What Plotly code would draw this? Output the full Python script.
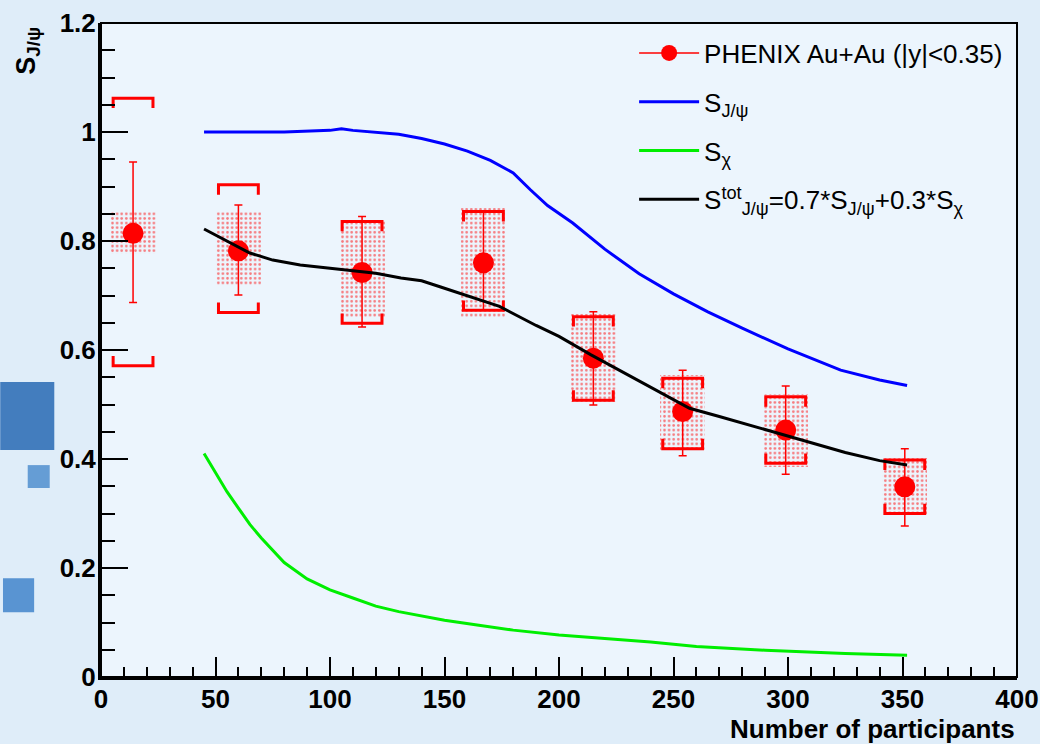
import plotly.graph_objects as go

# ---------------- data ----------------
npart = [14, 60, 114, 167, 215, 254, 299, 351]
s_data = [0.814, 0.782, 0.742, 0.760, 0.585, 0.487, 0.453, 0.349]
stat_plus = [0.131, 0.084, 0.103, 0.094, 0.085, 0.076, 0.081, 0.070]
stat_minus = [0.127, 0.081, 0.100, 0.087, 0.086, 0.081, 0.081, 0.072]
box_hi = [0.854, 0.854, 0.836, 0.860, 0.666, 0.554, 0.520, 0.401]
box_lo = [0.776, 0.719, 0.661, 0.661, 0.505, 0.416, 0.386, 0.299]
bracket_hi = [1.062, 0.903, 0.836, 0.854, 0.661, 0.548, 0.514, 0.398]
bracket_lo = [0.571, 0.669, 0.649, 0.673, 0.508, 0.419, 0.392, 0.300]

n_jpsi = [45, 60, 80, 100, 105, 110, 120, 130, 140, 150, 160, 170, 180, 187.5,
          195, 206, 220, 235, 250, 265, 280, 300, 323, 340, 352]
s_jpsi = [1.0, 1.0, 1.0, 1.003, 1.006, 1.003, 0.999, 0.996, 0.988, 0.978, 0.965,
          0.948, 0.925, 0.894, 0.865, 0.833, 0.785, 0.740, 0.703, 0.670, 0.640,
          0.602, 0.563, 0.545, 0.535]

n_chi = [45, 50, 55, 60, 65, 70, 75, 80, 90, 100, 110, 120, 130, 140, 150, 165,
         180, 200, 220, 240, 260, 290, 325, 352]
s_chi = [0.41, 0.375, 0.34, 0.31, 0.28, 0.255, 0.232, 0.21, 0.18, 0.16, 0.145,
         0.13, 0.12, 0.112, 0.104, 0.095, 0.086, 0.077, 0.071, 0.064, 0.056,
         0.049, 0.043, 0.040]

n_tot = [45, 55, 65, 75, 87, 100, 110, 120, 131, 140, 148, 160, 174, 190, 200,
         214, 230, 245, 257, 270, 280, 295, 308, 325, 340, 352]
s_tot = [0.822, 0.80, 0.778, 0.765, 0.756, 0.75, 0.746, 0.741, 0.732, 0.727,
         0.716, 0.70, 0.68, 0.645, 0.625, 0.591, 0.555, 0.52, 0.493, 0.478,
         0.466, 0.448, 0.432, 0.412, 0.397, 0.389]

x_ticks = [0, 50, 100, 150, 200, 250, 300, 350, 400]
y_ticks = [0, 0.2, 0.4, 0.6, 0.8, 1.0, 1.2]

# ---------------- styles ----------------
RED = "#ff0000"
FONT = "Liberation Sans"
BOX_W = 19.6        # width of shaded box in x units
BR_HALF = 8.7       # half width of bracket in x units
BR_PRONG = 0.018    # bracket prong length in y units

fig = go.Figure()

# shaded (dotted) boxes
fig.add_trace(go.Bar(
    x=npart, base=box_lo, y=[h - l for h, l in zip(box_hi, box_lo)],
    width=BOX_W, showlegend=False, hoverinfo="skip",
    marker=dict(color="rgba(0,0,0,0)", line=dict(width=0),
                pattern=dict(shape=".", size=4.6, solidity=0.26,
                             fgcolor=RED, bgcolor="rgba(0,0,0,0)")),
))

# brackets (systematic)
bx, by = [], []
for x, hi, lo in zip(npart, bracket_hi, bracket_lo):
    bx += [x - BR_HALF, x - BR_HALF, x + BR_HALF, x + BR_HALF, None]
    by += [hi - BR_PRONG, hi, hi, hi - BR_PRONG, None]
    bx += [x - BR_HALF, x - BR_HALF, x + BR_HALF, x + BR_HALF, None]
    by += [lo + BR_PRONG, lo, lo, lo + BR_PRONG, None]
fig.add_trace(go.Scatter(x=bx, y=by, mode="lines", showlegend=False,
                         hoverinfo="skip", line=dict(color=RED, width=3)))

# data points
fig.add_trace(go.Scatter(
    x=npart, y=s_data, mode="markers", showlegend=False,
    marker=dict(color=RED, size=21, symbol="circle"),
    error_y=dict(type="data", symmetric=False, array=stat_plus,
                 arrayminus=stat_minus, color=RED, thickness=1.5, width=4),
))
# legend entry for data
fig.add_trace(go.Scatter(
    x=[None], y=[None], mode="lines+markers", name="PHENIX Au+Au (|y|<0.35)",
    marker=dict(color=RED, size=20), line=dict(color=RED, width=1.5),
    legendrank=1, legendgroup="a",
))

fig.add_trace(go.Scatter(x=n_jpsi, y=s_jpsi, mode="lines",
                         name="S<sub>J/ψ</sub>", line=dict(color="#0000ff", width=3),
                         legendrank=2, legendgroup="b"))
fig.add_trace(go.Scatter(x=n_chi, y=s_chi, mode="lines",
                         name="S<sub>χ</sub>", line=dict(color="#00ee00", width=3),
                         legendrank=3, legendgroup="c"))
fig.add_trace(go.Scatter(x=n_tot, y=s_tot, mode="lines",
                         name="S<sup>tot</sup><sub>J/ψ</sub>=0.7*S<sub>J/ψ</sub>+0.3*S<sub>χ</sub>",
                         line=dict(color="black", width=3),
                         legendrank=4, legendgroup="d"))

# decorative background squares (left margin)
for (x0, y0, x1, y1, c) in [(-0.110, 0.347, -0.051, 0.451, "rgba(40,105,180,0.85)"),
                            (-0.080, 0.289, -0.056, 0.324, "rgba(60,130,200,0.75)"),
                            (-0.107, 0.099, -0.073, 0.151, "rgba(55,125,200,0.8)")]:
    fig.add_shape(type="rect", xref="paper", yref="paper", x0=x0, y0=y0, x1=x1, y1=y1,
                  fillcolor=c, line=dict(width=0), layer="below")

# plot frame (thin top/right)
fig.add_shape(type="rect", xref="x domain", yref="y domain", x0=0, y0=0, x1=1, y1=1,
              line=dict(color="black", width=2), layer="above")

fig.update_layout(
    width=1040, height=744,
    margin=dict(l=101, r=23, t=23, b=67, autoexpand=False),
    paper_bgcolor="#dfedf9", plot_bgcolor="#ecf5fd",
    barmode="overlay", bargap=0,
    font=dict(family=FONT, color="black"),
    legend=dict(x=0.582, y=0.99, xanchor="left", yanchor="top",
                bgcolor="rgba(0,0,0,0)", font=dict(family=FONT, size=26),
                traceorder="grouped", tracegroupgap=12, itemwidth=60),
    xaxis=dict(range=[0, 400], tickvals=x_ticks, ticks="inside", ticklen=20,
               tickwidth=2, tickcolor="black", showline=True, linewidth=3,
               linecolor="black", showgrid=False, zeroline=False,
               ticklabelstandoff=-3,
               tickfont=dict(family=FONT, size=26, weight="bold"),
               minor=dict(dtick=10, ticks="inside", ticklen=10, tickwidth=2,
                          tickcolor="black", showgrid=False)),
    yaxis=dict(range=[0, 1.2], tickvals=y_ticks, ticks="inside", ticklen=27,
               tickwidth=2, tickcolor="black", showline=True, linewidth=3,
               linecolor="black", showgrid=False, zeroline=False,
               ticklabelstandoff=-3,
               tickfont=dict(family=FONT, size=26, weight="bold"),
               minor=dict(dtick=0.05, ticks="inside", ticklen=14, tickwidth=2,
                          tickcolor="black", showgrid=False)),
)

fig.add_annotation(text="<b>Number of participants</b>", xref="paper", yref="paper",
                   x=1.0, y=-0.079, xanchor="right", yanchor="middle", showarrow=False,
                   font=dict(family=FONT, size=26, color="black"))
fig.add_annotation(text="<b>S<sub>J/ψ</sub></b>", xref="paper", yref="paper",
                   x=-0.080, y=0.997, xanchor="center", yanchor="top", showarrow=False,
                   textangle=-90, font=dict(family=FONT, size=27, color="black"))

fig.write_html("out.html", config={"displayModeBar": False},
               post_script="document.body.style.margin='0px';document.body.style.padding='0px';")
